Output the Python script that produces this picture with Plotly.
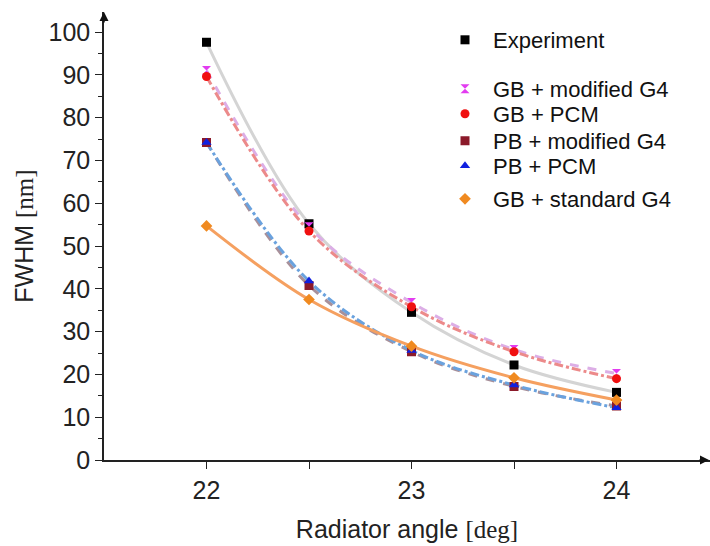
import plotly.graph_objects as go

angles = [22, 22.5, 23, 23.5, 24]
experiment = [97.6, 55.2, 34.5, 22.2, 15.8]
gb_mod_g4 = [91.0, 54.5, 36.8, 25.8, 20.2]
gb_pcm = [89.6, 53.5, 35.8, 25.3, 19.0]
pb_mod_g4 = [74.2, 40.8, 25.3, 17.2, 12.6]
pb_pcm = [74.2, 41.8, 25.6, 17.5, 12.2]
gb_std_g4 = [54.7, 37.5, 26.6, 19.2, 14.0]

names = ["Experiment", "GB + modified G4", "GB + PCM", "PB + modified G4", "PB + PCM", "GB + standard G4"]
series = [experiment, gb_mod_g4, gb_pcm, pb_mod_g4, pb_pcm, gb_std_g4]
mcolors = ["#000000", "#e23cf0", "#f01010", "#8b1a2a", "#1020e0", "#f08a20"]
symbols = ["square", "hourglass", "circle", "square-x", "triangle-up", "diamond"]
lcolors = ["#d4d4d4", "#dcaee6", "#ec8a8a", "#a8909a", "#6aa2de", "#f5a060"]
ldash = ["solid", "dash", "dashdot", "dash", "dashdot", "solid"]
legend_ids = ["legend", "legend2", "legend3", "legend4", "legend5", "legend6"]
legend_rows = [40, 89, 114, 141, 166, 199]  # pixel rows of legend entries

L, R, T, B = 104, 0, 12, 86
W, H = 710, 546
pw, ph = W - L - R, H - T - B

fig = go.Figure()
for ys, lc, ld in zip(series, lcolors, ldash):
    fig.add_trace(go.Scatter(x=angles, y=ys, mode="lines", line=dict(color=lc, width=3, dash=ld, shape="spline", smoothing=1.0),
                             showlegend=False, hoverinfo="skip"))
for nm, ys, mc, sy, lg in zip(names, series, mcolors, symbols, legend_ids):
    fig.add_trace(go.Scatter(x=angles, y=ys, mode="markers", name=nm, legend=lg,
                             marker=dict(color=mc, symbol=sy, size=9, line=dict(width=0))))

font = "Liberation Sans, Arial, sans-serif"
layout_legends = {}
for lg, row in zip(legend_ids, legend_rows):
    layout_legends[lg] = dict(x=(437 - L) / pw, y=(H - B - row) / ph, xanchor="left", yanchor="middle",
                              bgcolor="rgba(0,0,0,0)", font=dict(size=22, color="#111"), itemwidth=46)

fig.update_layout(
    template="none",
    width=W, height=H,
    margin=dict(l=L, r=R, t=T, b=B, autoexpand=False),
    paper_bgcolor="white", plot_bgcolor="white",
    font=dict(family=font, size=25, color="#222"),
    xaxis=dict(range=[21.5, 21.5 + pw / 205.0], showgrid=False, zeroline=False, showline=True, linecolor="#222", linewidth=1.5,
               automargin=False,
               tickmode="array", tickvals=[22, 23, 24], ticks="outside", ticklen=7, tickcolor="#222", tickwidth=1.2,
               minor=dict(tickvals=[22.5, 23.5], ticks="outside", ticklen=7, tickcolor="#222", tickwidth=1.2),
               tickfont=dict(size=25),
               title=dict(text='Radiator angle <span style="font-family:Liberation Serif, serif">[deg]</span>', font=dict(size=25), standoff=18)),
    yaxis=dict(range=[0, (H - B - T) / 4.28], showgrid=False, zeroline=False, showline=True, linecolor="#222", linewidth=1.5,
               automargin=False,
               tickmode="linear", tick0=0, dtick=10, ticks="outside", ticklen=7, tickcolor="#222", tickwidth=1.2,
               minor=dict(dtick=5, ticks="outside", ticklen=4, tickcolor="#222"),
               tickfont=dict(size=25),
               title=dict(text='FWHM <span style="font-family:Liberation Serif, serif">[nm]</span>', font=dict(size=25), standoff=8)),
    **layout_legends,
)
fig.add_annotation(x=0, y=1.0, xref="paper", yref="paper", ax=0, ay=12, text="", showarrow=True,
                   arrowhead=2, arrowsize=1.2, arrowwidth=1.5, arrowcolor="#111")
fig.add_annotation(x=1.0, y=0, xref="paper", yref="paper", ax=-12, ay=0, text="", showarrow=True,
                   arrowhead=2, arrowsize=1.2, arrowwidth=1.5, arrowcolor="#111")
fig.write_html("out.html", config={"displayModeBar": False},
               post_script="document.body.style.margin='0';document.body.style.overflow='hidden';")
